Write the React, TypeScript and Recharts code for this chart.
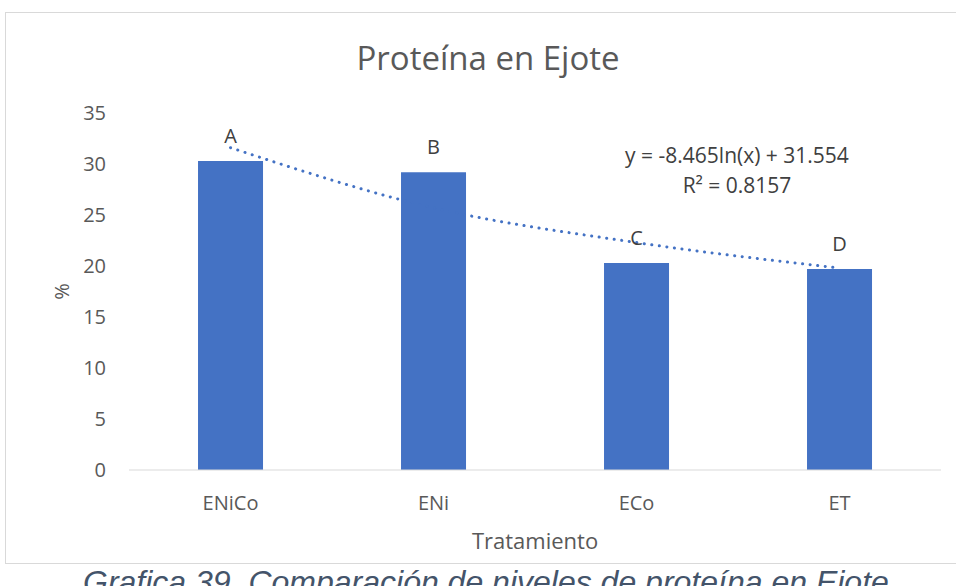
import { Bar, ComposedChart, LabelList, Line, XAxis, YAxis } from "recharts";

const categories = ["ENiCo", "ENi", "ECo", "ET"];
const proteina = [30.3, 29.2, 20.3, 19.7];
const letras = ["A", "B", "C", "D"];
// tendencia logarítmica leída sobre el centro de cada barra
const tendencia = [31.6, 25.7, 22.3, 19.8];
const yTicks = [0, 5, 10, 15, 20, 25, 30, 35];

const palette = {
  bar: "#4472C4",
  text: "#595959",
  label: "#404040",
  axis: "#D9D9D9",
  caption: "#44546A",
};

const font = "'Open Sans', sans-serif";

const data = categories.map((name, i) => ({
  name,
  proteina: proteina[i],
  letra: letras[i],
  tendencia: tendencia[i],
}));

export default function App() {
  return (
    <div
      style={{
        position: "fixed",
        left: 0,
        top: 0,
        width: 956,
        height: 586,
        overflow: "hidden",
        background: "#fff",
        fontFamily: font,
      }}
    >
      <div
        style={{
          position: "absolute",
          left: 5,
          top: 12,
          width: 980,
          height: 552,
          border: "1px solid #D9D9D9",
          boxSizing: "border-box",
        }}
      />
      <div
        style={{
          position: "absolute",
          left: 188,
          width: 600,
          top: 38,
          textAlign: "center",
          fontSize: 33,
          color: palette.text,
          lineHeight: "40px",
        }}
      >
        Proteína en Ejote
      </div>
      <div
        style={{
          position: "absolute",
          left: 587,
          width: 300,
          top: 140,
          textAlign: "center",
          fontSize: 21,
          color: palette.label,
          lineHeight: "30px",
          whiteSpace: "nowrap",
        }}
      >
        y = -8.465ln(x) + 31.554
        <br />
        R² = 0.8157
      </div>
      <div style={{ position: "absolute", left: 0, top: 0 }}>
        <ComposedChart
          width={956}
          height={586}
          data={data}
          margin={{ top: 113, right: 15, bottom: 86, left: 0 }}
          barCategoryGap="34%"
        >
          <XAxis
            dataKey="name"
            height={30}
            tickLine={false}
            tickSize={0}
            tickMargin={26}
            stroke={palette.axis}
            tick={{ fill: palette.text, fontSize: 20, fontFamily: font }}
            label={{
              value: "Tratamiento",
              position: "bottom",
              offset: 33,
              fill: palette.text,
              fontSize: 22,
              fontFamily: font,
            }}
          />
          <YAxis
            width={129}
            domain={[0, 35]}
            ticks={yTicks}
            axisLine={false}
            tickLine={false}
            tickSize={0}
            tickMargin={23}
            tick={{ fill: palette.text, fontSize: 20, fontFamily: font }}
            label={{
              value: "%",
              content: ({ viewBox }: any) => (
                <text
                  x={viewBox.x + 61}
                  y={viewBox.y + viewBox.height / 2}
                  transform={`rotate(-90 ${viewBox.x + 61} ${viewBox.y + viewBox.height / 2})`}
                  textAnchor="middle"
                  dominantBaseline="central"
                  fill={palette.text}
                  fontSize={20}
                  fontFamily={font}
                >
                  %
                </text>
              ),
            }}
          />
          <Line
            dataKey="tendencia"
            type="monotone"
            stroke={palette.bar}
            strokeWidth={3}
            strokeDasharray="0.1 7.5"
            strokeLinecap="round"
            dot={false}
            activeDot={false}
            isAnimationActive={false}
          />
          <Bar dataKey="proteina" fill={palette.bar} isAnimationActive={false}>
            <LabelList
              dataKey="letra"
              position="top"
              offset={18}
              fill={palette.label}
              fontSize={20}
              fontFamily={font}
            />
          </Bar>
        </ComposedChart>
      </div>
      <div
        style={{
          position: "absolute",
          left: 83,
          top: 564,
          fontFamily: "'Liberation Sans', Arial, sans-serif",
          fontStyle: "italic",
          fontSize: 32,
          color: palette.caption,
          whiteSpace: "nowrap",
          lineHeight: "37px",
        }}
      >
        Grafica 39.  Comparación de niveles de proteína en Ejote
      </div>
    </div>
  );
}
